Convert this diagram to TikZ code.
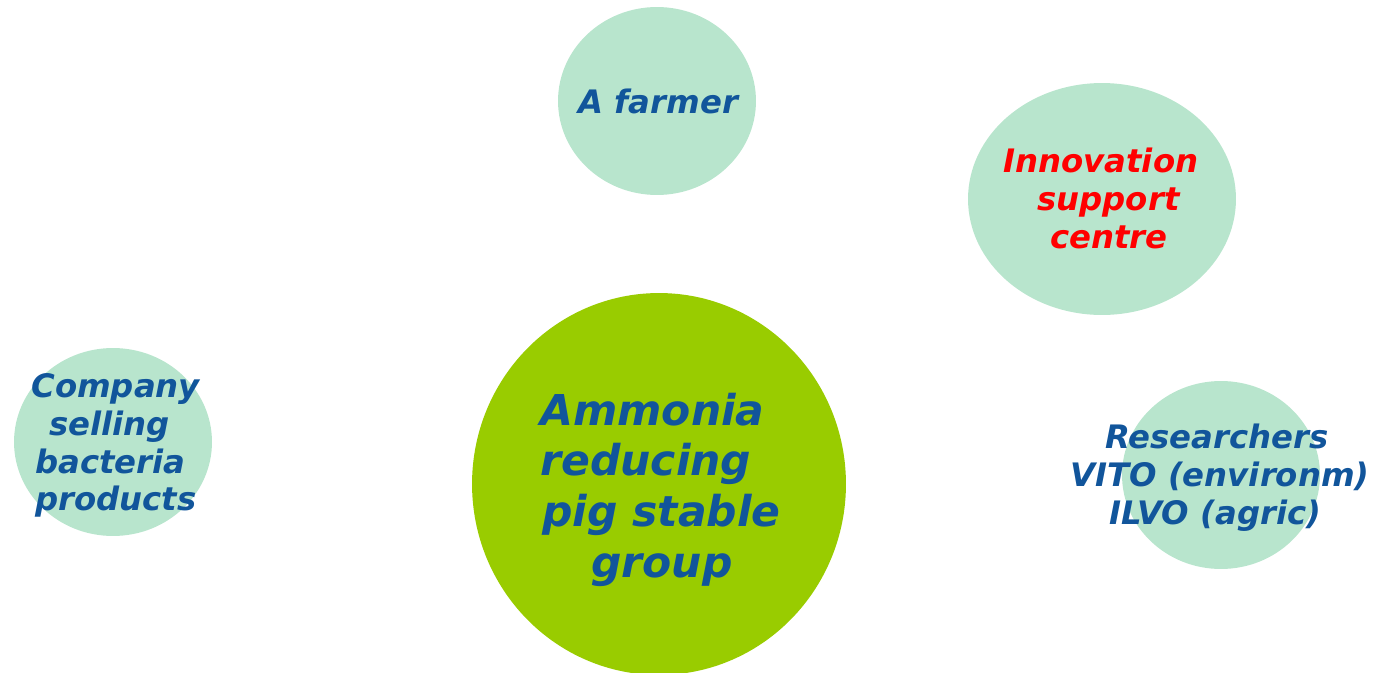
\documentclass[tikz,border=0pt]{standalone}
\usepackage{fontspec}
\setmainfont{DejaVu Sans}
\usetikzlibrary{shapes.geometric}
\definecolor{lightg}{HTML}{B8E5CD}
\definecolor{bigg}{HTML}{99CC00}
\definecolor{tblue}{HTML}{11559B}
\definecolor{tred}{HTML}{FF0000}
\tikzset{
  bubble/.style={ellipse, fill=lightg, draw=none, inner sep=0pt},
  bigbubble/.style={ellipse, fill=bigg, draw=none, inner sep=0pt},
  smalltxt/.style={anchor=base west, inner sep=0pt, text=tblue, font=\fontsize{18.4}{22}\selectfont\bfseries\itshape},
  redtxt/.style={smalltxt, text=tred},
  bigtxt/.style={anchor=base west, inner sep=0pt, text=tblue, font=\fontsize{24.2}{29}\selectfont\bfseries\itshape}
}
\begin{document}
\begin{tikzpicture}[x=0.02cm, y=-0.02cm]
\useasboundingbox (0,0) rectangle (1380,673);
\begin{scope}
\clip (0,0) rectangle (1380,673);
% bubbles
\node[bubble, minimum width=3.96cm, minimum height=3.76cm] (farmer) at (657,101) {};
\node[bubble, minimum width=5.36cm, minimum height=4.64cm] (isc) at (1102,199) {};
\node[bubble, minimum width=3.96cm, minimum height=3.76cm] (company) at (113,442) {};
\node[bubble, minimum width=3.96cm, minimum height=3.76cm] (research) at (1221,475) {};
\node[bigbubble, minimum width=7.48cm, minimum height=7.64cm] (group) at (659,484) {};
\end{scope}
% texts
\node[smalltxt] (tfarmer) at (578,113) {A farmer};
\node[redtxt] (tisc1) at (1003,172) {Innovation};
\node[redtxt] (tisc2) at (1037,210) {support};
\node[redtxt] (tisc3) at (1050,248) {centre};
\node[smalltxt] (tco1) at (31,397) {Company};
\node[smalltxt] (tco2) at (49,435) {selling};
\node[smalltxt] (tco3) at (35,473) {bacteria};
\node[smalltxt] (tco4) at (35,510) {products};
\node[smalltxt] (tre1) at (1105,448) {Researchers};
\node[smalltxt] (tre2) at (1070,486) {VITO (environm)};
\node[smalltxt] (tre3) at (1109,524) {ILVO (agric)};
\node[bigtxt] (tg1) at (540,425) {Ammonia};
\node[bigtxt] (tg2) at (540,475) {reducing};
\node[bigtxt] (tg3) at (542,526) {pig stable};
\node[bigtxt] (tg4) at (591,577) {group};
\end{tikzpicture}
\end{document}
